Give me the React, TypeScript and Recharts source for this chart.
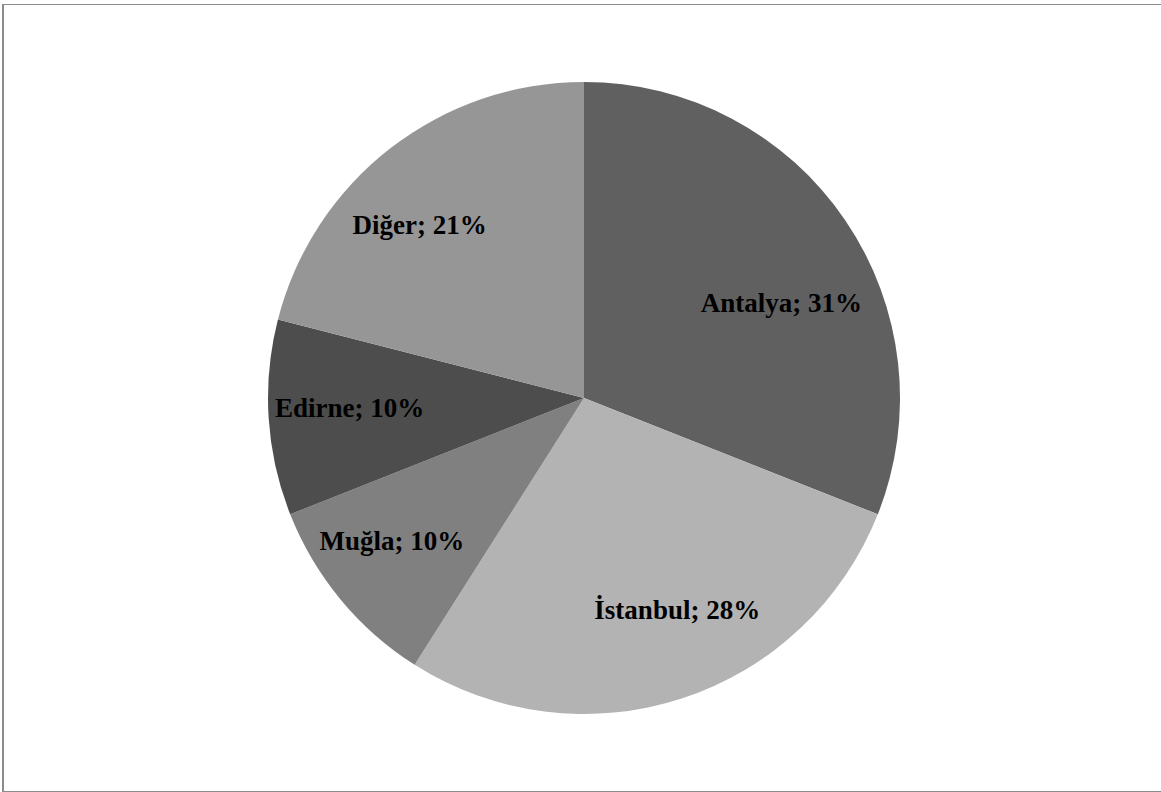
import { PieChart, Pie, Cell } from "recharts";

const cities = ["Antalya", "İstanbul", "Muğla", "Edirne", "Diğer"];
const shares = [31, 28, 10, 10, 21];
const COLORS = ["#606060", "#b3b3b3", "#808080", "#4d4d4d", "#969696"];

const data = cities.map((name, i) => ({ name, value: shares[i] }));

// small per-label nudges (px) to mimic the "best fit" label placement
const labelNudge: Record<string, [number, number]> = {
  Antalya: [4, 36],
  İstanbul: [21, -10],
  Muğla: [-12, -6],
  Edirne: [-1, -5],
  Diğer: [-21, 12],
};

const RAD = Math.PI / 180;

// label sits inside the slice, along its middle angle
const renderLabel = (props: any) => {
  const { cx, cy, midAngle, outerRadius, name, value } = props;
  const r = outerRadius * 0.74;
  const [dx, dy] = labelNudge[name] || [0, 0];
  const x = cx + r * Math.cos(-midAngle * RAD) + dx;
  const y = cy + r * Math.sin(-midAngle * RAD) + dy;
  return (
    <text
      x={x}
      y={y}
      textAnchor="middle"
      dominantBaseline="central"
      fill="#000"
      style={{ fontFamily: "'Liberation Serif', 'Times New Roman', serif", fontWeight: "bold", fontSize: 27 }}
    >
      {`${name}; ${value}%`}
    </text>
  );
};

export default function App() {
  return (
    <div style={{ position: "absolute", left: 0, top: 0, width: 1161, height: 792, background: "#fff" }}>
      <div
        style={{
          position: "absolute",
          left: 2,
          top: 4,
          width: 1157,
          height: 786,
          borderLeft: "2px solid #8c8c8c",
          borderTop: "1px solid #8c8c8c",
          borderRight: "1px solid #8c8c8c",
          borderBottom: "1px solid #8c8c8c",
        }}
      />
      <div style={{ position: "absolute", left: 0, top: 0 }}>
        <PieChart width={1161} height={792} margin={{ top: 0, right: 0, bottom: 0, left: 0 }}>
          <Pie
            data={data}
            dataKey="value"
            nameKey="name"
            cx={584}
            cy={398}
            outerRadius={316}
            startAngle={90}
            endAngle={-270}
            stroke="none"
            label={renderLabel}
            labelLine={false}
            isAnimationActive={false}
          >
            {data.map((entry, index) => (
              <Cell key={`cell-${index}`} fill={COLORS[index]} />
            ))}
          </Pie>
        </PieChart>
      </div>
    </div>
  );
}
